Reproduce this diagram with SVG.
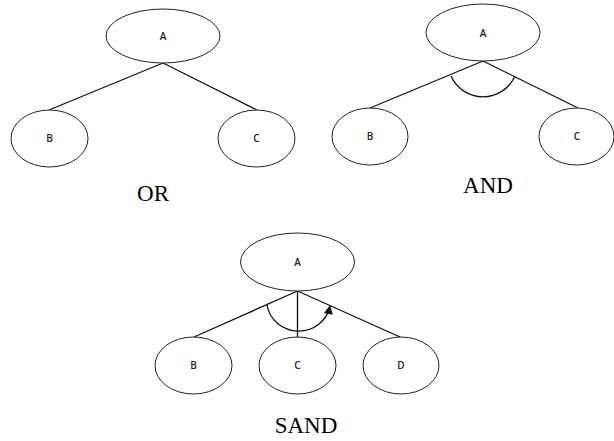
<svg xmlns="http://www.w3.org/2000/svg" width="614" height="441" viewBox="0 0 614 441">
<defs>
<style>
.node ellipse{fill:#fff;stroke:#222;stroke-width:1}
.node text{font-family:"Open Sans","DejaVu Sans",sans-serif;font-size:10px;font-weight:600;fill:#222;text-anchor:middle}
.edge{stroke:#111;stroke-width:1.3;fill:none}
.cap{font-family:"Liberation Serif","Times New Roman",serif;font-size:23px;fill:#000;text-anchor:middle}
</style>
<marker id="arr" viewBox="0 0 10 10" refX="9" refY="5" markerWidth="10" markerHeight="9" markerUnits="userSpaceOnUse" orient="auto">
<path d="M0,0 L10,5 L0,10 z" fill="#111"/>
</marker>
</defs>
<rect width="614" height="441" fill="#fff"/>
<g id="connectors">
<line class="edge" x1="163" y1="63" x2="49" y2="110"/>
<line class="edge" x1="163" y1="63" x2="257" y2="110"/>
<line class="edge" x1="483" y1="61" x2="370" y2="108"/>
<line class="edge" x1="483" y1="61" x2="578" y2="108"/>
<path class="edge" d="M451,76 A35,35 0 0 0 515,76"/>
<line class="edge" x1="297.5" y1="291" x2="194" y2="337"/>
<line class="edge" x1="297.5" y1="291" x2="297.5" y2="337"/>
<line class="edge" x1="297.5" y1="291" x2="400" y2="337"/>
<path class="edge" d="M267,305 A32,31 0 0 0 330,306" marker-end="url(#arr)"/>
</g>
<g id="or-A" class="node"><ellipse cx="163" cy="36" rx="57" ry="27"/><text x="163" y="40">A</text></g>
<g id="or-B" class="node"><ellipse cx="49.5" cy="138.5" rx="38.5" ry="28.5"/><text x="49.5" y="142">B</text></g>
<g id="or-C" class="node"><ellipse cx="256.5" cy="138.5" rx="38.5" ry="28.5"/><text x="256.5" y="142">C</text></g>
<text class="cap" x="153" y="201">OR</text>
<g id="and-A" class="node"><ellipse cx="483" cy="32.5" rx="57" ry="28.5"/><text x="483" y="37">A</text></g>
<g id="and-B" class="node"><ellipse cx="370" cy="136.5" rx="38" ry="28.5"/><text x="370" y="140">B</text></g>
<g id="and-C" class="node"><ellipse cx="576.5" cy="136.5" rx="37.5" ry="28.5"/><text x="577" y="140">C</text></g>
<text class="cap" x="488" y="193">AND</text>
<g id="sand-A" class="node"><ellipse cx="297.5" cy="262" rx="57" ry="29"/><text x="297.5" y="266">A</text></g>
<g id="sand-B" class="node"><ellipse cx="193.5" cy="365.5" rx="38.5" ry="28.5"/><text x="193.5" y="369">B</text></g>
<g id="sand-C" class="node"><ellipse cx="297.5" cy="365.5" rx="38.5" ry="28.5"/><text x="297.5" y="369">C</text></g>
<g id="sand-D" class="node"><ellipse cx="401" cy="365.5" rx="38" ry="28.5"/><text x="401" y="369">D</text></g>
<text class="cap" x="306" y="433">SAND</text>
</svg>
